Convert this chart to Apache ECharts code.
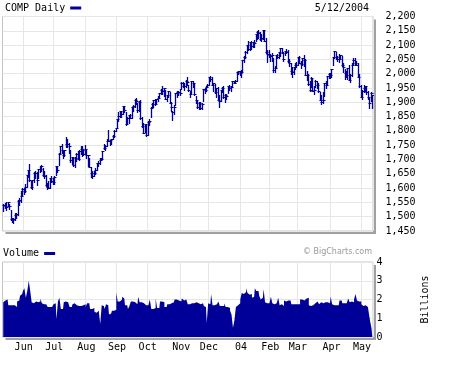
<!DOCTYPE html>
<html>
<head>
<meta charset="utf-8">
<script src="https://cdn.jsdelivr.net/npm/echarts@6/dist/echarts.min.js"></script>
<style>
html,body{margin:0;padding:0;background:#fff;}
#c{width:452px;height:366px;}
</style>
</head>
<body>
<div id="c"></div>
<script>
// ---- categories: trading days per month ----
const months = ['2003-05','2003-06','2003-07','2003-08','2003-09','2003-10','2003-11','2003-12','2004-01','2004-02','2004-03','2004-04','2004-05'];
const tradingDays = [
  [12,13,14,15,16,19,20,21,22,23,27,28,29,30],
  [2,3,4,5,6,9,10,11,12,13,16,17,18,19,20,23,24,25,26,27,30],
  [1,2,3,7,8,9,10,11,14,15,16,17,18,21,22,23,24,25,28,29,30,31],
  [1,4,5,6,7,8,11,12,13,14,15,18,19,20,21,22,25,26,27,28,29],
  [2,3,4,5,8,9,10,11,12,15,16,17,18,19,22,23,24,25,26,29,30],
  [1,2,3,6,7,8,9,10,13,14,15,16,17,20,21,22,23,24,27,28,29,30,31],
  [3,4,5,6,7,10,11,12,13,14,17,18,19,20,21,24,25,26,28],
  [1,2,3,4,5,8,9,10,11,12,15,16,17,18,19,22,23,24,26,29,30,31],
  [2,5,6,7,8,9,12,13,14,15,16,20,21,22,23,26,27,28,29,30],
  [2,3,4,5,6,9,10,11,12,13,17,18,19,20,23,24,25,26,27],
  [1,2,3,4,5,8,9,10,11,12,15,16,17,18,19,22,23,24,25,26,29,30,31],
  [1,2,5,6,7,8,12,13,14,15,16,19,20,21,22,23,26,27,28,29,30],
  [3,4,5,6,7,10,11,12]
];
const monthTickLabels = ['Jun','Jul','Aug','Sep','Oct','Nov','Dec','04','Feb','Mar','Apr','May'];

// ---- price axis / volume axis ticks ----
const priceMin = 1450, priceMax = 2200, priceStep = 50;
const volMin = 0, volMax = 4, volStep = 1;

// ---- daily highs / lows / closes (COMP) ----
const high = [
  1543,1548,1552,1553,1545,1525,1497,1495,1512,1513,1558,1566,1590,1599,
  1599,1615,1647,1665,1686,1625,1629,1656,1660,1655,1668,1679,1680,1670,1660,1645,1617,1625,1636,1643,1634,
  1641,1678,1676,1721,1747,1754,1733,1734,1777,1772,1756,1734,1709,1704,1708,1722,1728,1733,1746,1747,1736,1749,
  1736,1716,1706,1675,1660,1660,1672,1688,1695,1704,1705,1731,1753,1752,1771,1802,1768,1773,1786,1802,1811,
  1843,1865,1868,1868,1887,1884,1865,1848,1857,1860,1884,1890,1910,1915,1897,1903,1908,1850,1827,1825,1819,
  1833,1840,1885,1898,1907,1913,1913,1921,1934,1946,1956,1951,1944,1925,1941,1937,1902,1870,1890,1932,1940,1941,1947,
  1970,1972,1966,1977,1990,1960,1941,1974,1975,1966,1922,1909,1902,1902,1898,1947,1951,1956,1964,
  1990,1993,1989,1969,1964,1949,1955,1927,1944,1955,1958,1928,1930,1956,1960,1958,1974,1975,1977,2006,2011,2010,
  2012,2047,2063,2078,2100,2113,2112,2114,2111,2119,2140,2150,2153,2145,2140,2154,2154,2126,2083,2083,
  2070,2072,2056,2028,2064,2070,2076,2090,2089,2076,2081,2088,2083,2050,2038,2022,2023,2037,2041,
  2060,2062,2044,2056,2067,2050,2008,1998,1975,1987,1983,1956,1977,1975,1967,1935,1924,1935,1969,1973,1992,2004,2004,
  2016,2057,2080,2077,2061,2068,2066,2063,2038,2015,2008,2021,2031,1998,2038,2055,2056,2045,2038,1998,1962,
  1944,1959,1958,1957,1940,1916,1935,1927
];
const low = [
  1520,1530,1523,1537,1526,1487,1481,1478,1489,1496,1506,1540,1553,1576,
  1580,1587,1605,1640,1625,1600,1598,1620,1637,1612,1637,1655,1660,1643,1636,1606,1598,1600,1600,1622,1615,
  1616,1646,1658,1681,1718,1724,1704,1712,1745,1742,1723,1690,1684,1678,1675,1694,1702,1699,1718,1713,1715,1718,
  1704,1676,1673,1640,1635,1641,1648,1664,1678,1685,1698,1706,1736,1733,1748,1763,1750,1753,1770,1780,1799,
  1812,1836,1848,1849,1858,1866,1820,1828,1829,1844,1846,1868,1885,1895,1866,1868,1841,1815,1791,1796,1782,
  1787,1821,1850,1884,1885,1890,1897,1903,1918,1930,1930,1923,1911,1905,1920,1896,1870,1837,1860,1889,1920,1926,1925,
  1947,1955,1942,1952,1962,1938,1920,1934,1954,1925,1896,1880,1875,1878,1876,1906,1931,1940,1952,
  1961,1976,1960,1941,1933,1920,1908,1883,1905,1937,1916,1901,1913,1931,1944,1940,1953,1966,1967,1973,1998,1995,
  1990,2009,2040,2055,2073,2082,2084,2086,2094,2095,2115,2122,2126,2119,2114,2121,2114,2074,2041,2057,
  2043,2046,2006,2006,2021,2056,2054,2062,2072,2046,2064,2074,2041,2026,1998,1990,2000,2016,2022,
  2031,2037,2021,2031,2026,1995,1977,1960,1938,1953,1939,1930,1953,1950,1936,1907,1895,1896,1921,1949,1962,1986,1986,
  1989,2030,2055,2053,2043,2040,2050,2026,2005,1982,1990,1982,1977,1970,1993,2031,2030,2029,1987,1952,1917,
  1912,1935,1939,1928,1913,1880,1905,1879
];
const close = [
  1541,1539,1534,1551,1538,1491,1490,1492,1507,1510,1556,1557,1574,1596,
  1590,1603,1646,1664,1627,1603,1627,1654,1653,1627,1666,1668,1677,1645,1644,1610,1605,1602,1634,1625,1623,
  1640,1678,1664,1720,1746,1733,1715,1733,1754,1753,1747,1699,1708,1681,1706,1719,1702,1731,1735,1734,1720,1735,
  1715,1714,1673,1652,1644,1653,1662,1687,1687,1700,1703,1730,1739,1746,1765,1765,1767,1772,1782,1800,1810,
  1842,1853,1868,1858,1886,1874,1823,1846,1855,1846,1884,1887,1909,1905,1874,1902,1844,1817,1792,1824,1786,
  1832,1836,1880,1894,1907,1893,1911,1915,1934,1944,1939,1950,1912,1925,1940,1898,1885,1865,1882,1932,1936,1937,1932,
  1967,1958,1958,1976,1970,1942,1930,1973,1967,1930,1909,1882,1899,1881,1893,1947,1943,1954,1960,
  1989,1981,1960,1967,1937,1949,1908,1905,1942,1949,1918,1925,1921,1956,1951,1955,1974,1969,1973,2006,2009,2003,
  2006,2047,2057,2077,2100,2086,2111,2096,2111,2109,2140,2147,2142,2123,2124,2153,2116,2077,2068,2066,
  2063,2066,2014,2019,2064,2060,2075,2089,2073,2053,2081,2076,2045,2037,2008,2005,2022,2032,2030,
  2058,2039,2033,2055,2048,1996,1996,1964,1944,1985,1940,1943,1976,1962,1940,1909,1901,1909,1967,1960,1992,2000,1994,
  2015,2057,2079,2060,2051,2053,2065,2030,2025,2002,1995,2020,1979,1995,2032,2049,2036,2032,1989,1958,1920,
  1938,1950,1957,1937,1917,1896,1931,1926
];
// ---- daily volume, billions ----
const volume = [
  1.85,1.95,1.9,2.0,1.7,1.7,1.7,1.65,1.7,1.6,1.9,1.95,2.2,2.3,
  2.45,2.6,2.1,2.45,3.0,2.45,1.85,1.8,1.9,1.9,1.85,1.9,2.05,1.8,1.75,1.75,1.7,1.6,1.6,1.6,1.65,
  1.75,1.8,0.95,1.9,2.1,1.5,1.5,1.85,1.9,1.85,1.8,1.6,1.6,1.75,1.8,1.7,1.75,1.65,1.65,1.6,1.7,1.75,
  1.6,1.8,1.8,1.5,1.5,1.55,1.35,1.3,1.4,1.5,0.7,1.7,1.65,1.5,1.75,1.7,1.2,1.25,1.4,1.4,1.45,
  2.35,1.9,1.9,2.0,2.15,2.05,1.7,1.7,1.5,1.65,1.9,1.9,1.85,1.75,1.75,2.15,1.85,1.85,1.8,1.9,1.7,
  1.7,1.75,2.0,1.5,1.5,1.55,2.05,1.55,1.55,1.9,1.9,1.85,1.6,1.6,1.75,1.75,1.8,1.85,1.85,2.0,2.0,1.95,2.05,
  1.9,2.05,1.95,2.0,2.0,1.75,1.75,1.8,1.8,1.8,1.85,1.8,1.8,1.75,1.8,1.8,1.65,1.6,0.75,
  1.8,1.75,2.3,1.7,1.7,1.75,1.75,1.9,1.65,1.65,1.65,1.8,1.6,1.6,1.55,1.4,1.2,0.5,0.9,1.6,1.7,1.8,
  2.0,2.35,2.3,2.4,2.6,2.35,2.25,2.3,2.1,2.15,2.6,2.45,2.45,2.2,2.0,2.1,2.55,1.85,1.8,1.8,
  1.8,2.15,1.8,1.75,1.8,1.85,2.1,1.7,1.75,1.65,1.95,1.9,1.95,1.95,1.95,1.75,1.75,1.75,1.7,
  1.75,1.75,2.0,2.0,1.95,2.0,2.05,2.1,1.7,1.65,1.7,1.75,1.8,1.9,1.8,1.75,1.85,1.8,1.8,1.85,1.85,1.9,1.8,
  2.15,1.75,1.7,1.7,1.65,1.7,1.95,1.95,1.8,1.8,1.8,1.9,2.05,1.85,1.9,1.85,2.0,2.3,1.95,1.9,1.9,
  1.75,1.65,1.7,1.6,1.6,1.35,0.85,0.45
];

// ---- build categories ----
const pad = d => (d < 10 ? '0' : '') + d;
const dates = [];
const monthStart = {};
months.forEach((m, k) => {
  tradingDays[k].forEach((d, j) => {
    if (j === 0 && k > 0) monthStart[dates.length] = monthTickLabels[k - 1];
    dates.push(m + '-' + pad(d));
  });
});
const isMonthStart = idx => Object.prototype.hasOwnProperty.call(monthStart, idx);

// ---- layout / styles ----
const MONO = 'DejaVu Sans Mono';
const BLUE = '#000099';
const GRIDC = '#e6e6e6';
const L = 2.5, W = 370.5, T1 = 16.5, H1 = 214.5, T2 = 262, H2 = 75;

const chart = echarts.init(document.getElementById('c'), null, {renderer: 'canvas'});

const ohlc = dates.map((d, i) => [i, high[i], low[i], close[i]]);

function renderBar(params, api) {
  const i = api.value(0);
  const h = api.coord([i, api.value(1)]);
  const l = api.coord([i, api.value(2)]);
  const c = api.coord([i, api.value(3)]);
  const x = Math.round(h[0]) + 0.5;
  const yc = Math.round(c[1]) + 0.5;
  return {
    type: 'group',
    children: [
      {type: 'line', shape: {x1: x, y1: Math.round(h[1]), x2: x, y2: Math.round(l[1]) + 1},
       style: {stroke: BLUE, lineWidth: 1.3}},
      {type: 'line', shape: {x1: x - 1, y1: yc, x2: x + 2, y2: yc},
       style: {stroke: BLUE, lineWidth: 1}}
    ]
  };
}

const option = {
  animation: false,
  backgroundColor: '#fff',
  textStyle: {fontFamily: MONO},
  title: [
    {text: '5/12/2004', right: 83, top: 3, padding: 0,
     textStyle: {fontFamily: MONO, fontSize: 10, fontWeight: 'normal', color: '#000'}},
    {text: '\u00a9 BigCharts.com', right: 80, top: 248, padding: 0,
     textStyle: {fontFamily: 'DejaVu Sans', fontSize: 8, fontWeight: 'normal', color: '#999'}}
  ],
  legend: [
    {data: ['COMP Daily'], left: 5, top: 3, padding: 0, align: 'right', icon: 'rect',
     itemWidth: 11, itemHeight: 3, selectedMode: false,
     textStyle: {fontFamily: MONO, fontSize: 10, color: '#000'}},
    {data: ['Volume'], left: 3, top: 248.5, padding: 0, align: 'right', icon: 'rect',
     itemWidth: 11, itemHeight: 3, selectedMode: false,
     textStyle: {fontFamily: MONO, fontSize: 10, color: '#000'}}
  ],
  graphic: [
    {type: 'rect', z: -10, shape: {x: L + 3, y: T1 + 3, width: W, height: H1}, style: {fill: '#a0a0a0'}},
    {type: 'rect', z: -10, shape: {x: L + 3, y: T2 + 3, width: W, height: H2}, style: {fill: '#a0a0a0'}}
  ],
  grid: [
    {left: L, top: T1, width: W, height: H1, show: true, backgroundColor: '#fff', borderColor: '#c4c4c4', borderWidth: 1},
    {left: L, top: T2, width: W, height: H2, show: true, backgroundColor: '#fff', borderColor: '#c4c4c4', borderWidth: 1}
  ],
  xAxis: [
    {type: 'category', gridIndex: 0, data: dates, boundaryGap: true,
     axisLine: {show: false}, axisTick: {show: false}, axisLabel: {show: false},
     splitLine: {show: true, interval: (idx) => isMonthStart(idx), lineStyle: {color: GRIDC, width: 1}}},
    {type: 'category', gridIndex: 1, data: dates, boundaryGap: true,
     axisLine: {show: false}, axisTick: {show: false},
     axisLabel: {show: true, interval: (idx) => isMonthStart(idx), formatter: (v, idx) => monthStart[idx] || '',
                 fontFamily: MONO, fontSize: 10, color: '#000', margin: 5},
     splitLine: {show: true, interval: (idx) => isMonthStart(idx), lineStyle: {color: GRIDC, width: 1}}}
  ],
  yAxis: [
    {type: 'value', gridIndex: 0, position: 'right', min: priceMin, max: priceMax, interval: priceStep,
     axisLine: {show: false}, axisTick: {show: false},
     axisLabel: {fontFamily: MONO, fontSize: 10, color: '#000', margin: 12.5,
                 formatter: v => v.toLocaleString('en-US')},
     splitLine: {show: true, lineStyle: {color: GRIDC, width: 1}}},
    {type: 'value', gridIndex: 1, position: 'right', min: volMin, max: volMax, interval: volStep,
     name: 'Billions', nameLocation: 'middle', nameRotate: 90, nameGap: 47,
     nameTextStyle: {fontFamily: MONO, fontSize: 10, color: '#000'},
     axisLine: {show: false}, axisTick: {show: false},
     axisLabel: {fontFamily: MONO, fontSize: 10, color: '#000', margin: 3.5},
     splitLine: {show: true, lineStyle: {color: GRIDC, width: 1}}}
  ],
  series: [
    {name: 'COMP Daily', type: 'custom', xAxisIndex: 0, yAxisIndex: 0,
     itemStyle: {color: BLUE}, renderItem: renderBar, clip: true,
     encode: {x: 0, y: [1, 2, 3]}, data: ohlc},
    {name: 'Volume', type: 'line', xAxisIndex: 1, yAxisIndex: 1, step: 'middle',
     symbol: 'none', itemStyle: {color: BLUE}, lineStyle: {width: 0, color: BLUE},
     areaStyle: {color: BLUE, opacity: 1}, data: volume}
  ]
};
chart.setOption(option);
</script>
</body>
</html>
